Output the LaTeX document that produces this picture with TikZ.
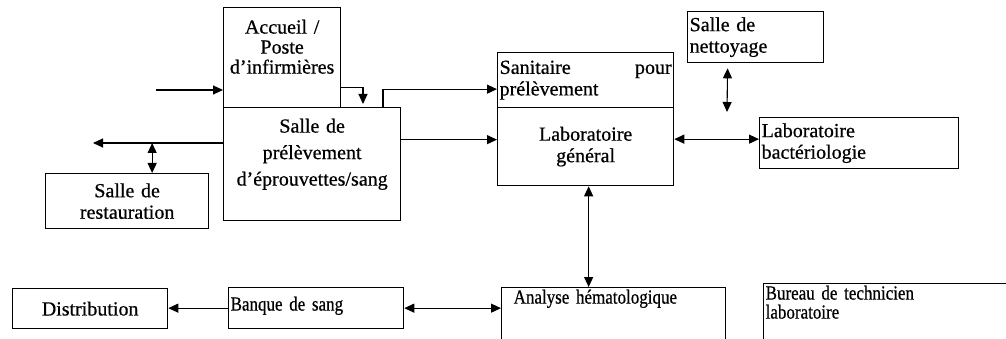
\documentclass[tikz,border=0pt]{standalone}
\usepackage{fontspec}
\setmainfont{Liberation Serif}[FakeBold=0.6]
\newfontfamily\narrowfont{Liberation Serif}[FakeStretch=0.85,FakeBold=0.6]
\usepackage{tikz}
\usetikzlibrary{arrows.meta}
\usetikzlibrary{positioning}

\begin{document}
\begin{tikzpicture}[x=1pt,y=-1pt,>={Triangle[length=10pt,width=9pt]},line width=1.1pt,
    box/.style={draw,rectangle,anchor=north west,inner sep=2pt,line width=1.3pt,font=\fontsize{20}{21.5}\selectfont},
    centre/.style={box,align=center},
    gauche/.style={box,align=left},
    bas/.style={gauche,font=\narrowfont\fontsize{20}{19}\selectfont}]
    \useasboundingbox (0,0) rectangle (1006,339);

    \node[centre,text width=113pt,minimum height=100pt,text depth=62pt,font=\fontsize{20}{20}\selectfont] (accueil) at (223,7) {Accueil /\\Poste\\d'infirmières};
    \node[centre,text width=173pt,minimum height=113pt,text depth=77pt,font=\fontsize{20}{26.5}\selectfont] (prelev) at (223,107) {Salle de\\prélèvement\\d'éprouvettes/sang};
    \node[centre,text width=159pt,minimum height=55pt] (restau) at (45,173) {Salle de\\restauration};
    \node[gauche,text width=172pt,minimum height=55pt] (sanit) at (497,52) {Sanitaire\hfill pour\\prélèvement};
    \node[centre,text width=172pt,minimum height=78pt] (labo) at (497,107) {Laboratoire\\général};
    \node[gauche,text width=132pt,minimum height=51pt] (nett) at (687,11) {Salle de\\nettoyage};
    \node[gauche,text width=195pt,minimum height=51pt] (bact) at (759,117) {Laboratoire\\bactériologie};
    \node[centre,text width=151pt,minimum height=40pt] (distrib) at (12,288) {Distribution};
    \node[bas,text width=171pt,minimum height=41pt,text depth=9pt] (banque) at (228,287) {Banque de sang};
    \node[bas,inner xsep=12pt,text width=200pt,minimum height=80pt,text depth=62pt] (analyse) at (501,287) {Analyse hématologique};
    \node[bas,text width=256pt,minimum height=84pt,text depth=66pt] (bureau) at (763,283) {Bureau de technicien\\laboratoire};

    \coordinate (entree) at (156,90);
    \coordinate (sortie) at (93,143);
    \coordinate (nett-bas) at (727,112);

    \draw[->] (entree) -- (entree -| accueil.west);
    \draw[->,shorten >=3pt] ([yshift=21pt]accueil.south east) -| ([xshift=140pt]prelev.north west);
    \draw[->] ([xshift=160pt]prelev.north west) |- ([yshift=-9pt]sanit.west);
    \draw[->] ([yshift=7pt]labo.west -| prelev.east) -- ([yshift=7pt]labo.west);
    \draw[->] (sortie -| prelev.west) -- (sortie);
    \draw[<->] ([xshift=25pt]restau.north |- sortie) -- ([xshift=25pt]restau.north);
    \draw[<->,shorten <=5pt] ([xshift=-28pt]nett.south) -- (nett-bas);
    \draw[<->] ([yshift=4pt]bact.west -| labo.east) -- ([yshift=4pt]bact.west);
    \draw[<->] ([xshift=3pt]labo.south) -- ([xshift=3pt]labo.south |- analyse.north);
    \draw[<->] (banque.east) -- (banque.east -| analyse.west);
    \draw[->] (banque.west) -- (banque.west -| distrib.east);
\end{tikzpicture}
\end{document}
